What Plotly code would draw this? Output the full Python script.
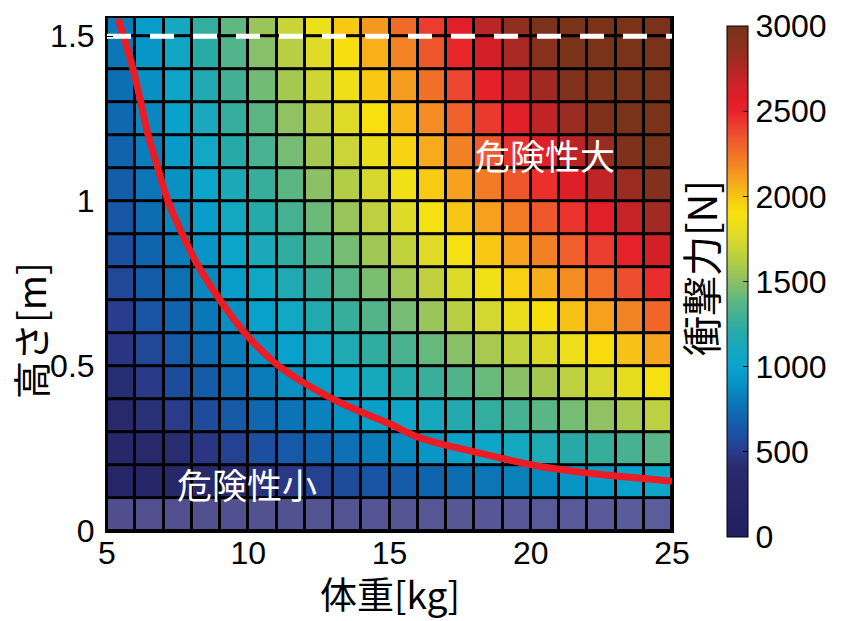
import plotly.graph_objects as go

# ---------------- data ----------------
# cell edges
weight_edges = [5, 6, 7, 8, 9, 10, 11, 12, 13, 14, 15, 16, 17, 18, 19, 20, 21, 22, 23, 24, 25]
height_edges_bottom = [0.0, 0.1]
height_edges = [0.1, 0.2, 0.3, 0.4, 0.5, 0.6, 0.7, 0.8, 0.9, 1.0, 1.1, 1.2, 1.3, 1.4, 1.5, 1.6]

# impact force [N] per cell, bottom row (0 - 0.1 m)
force_row_0 = [110, 130, 150, 170, 190, 210, 230, 250, 270, 290, 310, 330, 350, 370, 390, 410, 430, 450, 470, 490]

# impact force [N] per cell, rows 0.1 - 1.6 m (bottom to top)
force_rows = [
    [233, 275, 317, 360, 402, 444, 486, 529, 571, 613, 656, 698, 740, 783, 825, 867, 909, 952, 994, 1036],
    [308, 364, 420, 476, 532, 588, 644, 700, 756, 812, 868, 924, 980, 1036, 1092, 1148, 1204, 1260, 1316, 1372],
    [370, 437, 504, 571, 638, 706, 773, 840, 907, 974, 1042, 1109, 1176, 1243, 1310, 1378, 1445, 1512, 1579, 1646],
    [422, 499, 576, 653, 730, 806, 883, 960, 1037, 1114, 1190, 1267, 1344, 1421, 1498, 1574, 1651, 1728, 1805, 1882],
    [470, 556, 641, 727, 812, 898, 983, 1069, 1154, 1240, 1325, 1411, 1496, 1582, 1667, 1753, 1838, 1924, 2009, 2095],
    [514, 607, 701, 794, 887, 981, 1074, 1168, 1261, 1354, 1448, 1541, 1635, 1728, 1821, 1915, 2008, 2102, 2195, 2288],
    [554, 655, 755, 856, 957, 1057, 1158, 1259, 1359, 1460, 1561, 1662, 1762, 1863, 1964, 2064, 2165, 2266, 2366, 2467],
    [591, 699, 806, 914, 1021, 1129, 1236, 1344, 1451, 1559, 1666, 1774, 1881, 1989, 2096, 2204, 2311, 2419, 2526, 2634],
    [626, 740, 854, 968, 1082, 1196, 1310, 1424, 1538, 1652, 1765, 1879, 1993, 2107, 2221, 2335, 2449, 2563, 2677, 2791],
    [660, 780, 900, 1020, 1140, 1260, 1380, 1500, 1620, 1740, 1860, 1980, 2100, 2220, 2340, 2460, 2580, 2700, 2820, 2940],
    [692, 818, 944, 1069, 1195, 1321, 1447, 1573, 1698, 1824, 1950, 2076, 2202, 2327, 2453, 2579, 2705, 2831, 2956, 3082],
    [723, 854, 986, 1117, 1248, 1380, 1511, 1643, 1774, 1905, 2037, 2168, 2300, 2431, 2562, 2694, 2825, 2957, 3088, 3219],
    [752, 889, 1026, 1163, 1300, 1436, 1573, 1710, 1847, 1984, 2120, 2257, 2394, 2531, 2668, 2804, 2941, 3078, 3215, 3352],
    [780, 922, 1064, 1206, 1348, 1490, 1632, 1774, 1916, 2058, 2199, 2341, 2483, 2625, 2767, 2909, 3051, 3193, 3335, 3477],
    [808, 955, 1102, 1249, 1396, 1542, 1689, 1836, 1983, 2130, 2277, 2424, 2571, 2718, 2865, 3011, 3158, 3305, 3452, 3599],
]

# danger boundary curve
curve_weight = [5.40, 5.90, 6.18, 6.44, 6.79, 7.14, 7.64, 8.23, 9.0, 9.89, 11.12, 13.07,
                15.0, 16.0, 17.0, 18.0, 19.0, 20.0, 21.0, 22.0, 23.0, 24.0, 25.0]
curve_height = [1.552, 1.407, 1.306, 1.205, 1.103, 1.005, 0.904, 0.803, 0.70, 0.599, 0.498, 0.397,
                0.325, 0.285, 0.260, 0.240, 0.220, 0.201, 0.187, 0.176, 0.167, 0.159, 0.151]

# safety height line
line_weight = [5, 25]
line_height = [1.5, 1.5]

x_ticks = [5, 10, 15, 20, 25]
y_ticks = [0, 0.5, 1, 1.5]
y_ticklabels = ["0", "0.5", "1", "1.5"]
cbar_ticks = [0, 500, 1000, 1500, 2000, 2500, 3000]

# ---------------- style ----------------
colorscale = [
    [0.000, "#221e62"], [0.133, "#282a6c"], [0.167, "#2a3a8a"], [0.200, "#1a52a2"],
    [0.233, "#1064ae"], [0.267, "#0a7ab8"], [0.300, "#0892c4"], [0.333, "#08a4cc"],
    [0.367, "#16a8c0"], [0.400, "#26aaa8"], [0.433, "#42b094"], [0.467, "#62b880"],
    [0.500, "#8cc066"], [0.533, "#aecb4a"], [0.567, "#ccd536"], [0.600, "#e6dd20"],
    [0.633, "#f8e20e"], [0.667, "#f8c414"], [0.700, "#f6a21e"], [0.733, "#f28224"],
    [0.767, "#f0622a"], [0.800, "#ec4430"], [0.833, "#e8222a"], [0.867, "#dc1e28"],
    [0.900, "#c02426"], [0.933, "#a02a22"], [0.967, "#88301e"], [1.000, "#7a3218"],
]

TICK_FONT = dict(family="Liberation Sans, Arial, sans-serif", size=32, color="black")
JP_FONT = "Noto Sans CJK JP, sans-serif"

fig = go.Figure()

fig.add_trace(go.Heatmap(
    x=weight_edges, y=height_edges, z=force_rows,
    zmin=0, zmax=3000, colorscale=colorscale,
    xgap=3, ygap=3,
    colorbar=dict(
        x=(727 - 107) / 565, xanchor="left", xref="paper",
        y=(531 - 281.5) / 513, yanchor="middle",
        len=511, lenmode="pixels",
        thickness=21, thicknessmode="pixels",
        outlinecolor="black", outlinewidth=1,
        tickvals=cbar_ticks, ticks="inside", ticklen=5, tickcolor="black",
        tickfont=TICK_FONT, ypad=0, xpad=0,
    ),
    hoverinfo="skip",
))

fig.add_trace(go.Heatmap(
    x=weight_edges, y=height_edges_bottom, z=[force_row_0],
    zmin=0, zmax=500, colorscale=[[0, "#4d4a88"], [1, "#5b5c9c"]],
    xgap=3, ygap=3, showscale=False, hoverinfo="skip",
))

fig.add_trace(go.Scatter(
    x=curve_weight, y=curve_height, mode="lines",
    line=dict(color="#ec1c24", width=7, shape="spline"),
    hoverinfo="skip", showlegend=False,
))

fig.add_trace(go.Scatter(
    x=line_weight, y=line_height, mode="lines",
    line=dict(color="white", width=5, dash="24px,19px"),
    hoverinfo="skip", showlegend=False,
))

fig.update_layout(
    width=842, height=621,
    margin=dict(l=107, r=170, t=18, b=90, autoexpand=False),
    paper_bgcolor="white", plot_bgcolor="black",
    showlegend=False,
    xaxis=dict(
        range=[5, 25], tickvals=x_ticks, ticks="inside", ticklen=6, tickcolor="black",
        showline=True, linecolor="black", linewidth=2, mirror=True, automargin=False,
        showgrid=False, zeroline=False, tickfont=TICK_FONT, ticklabelstandoff=-7,
    ),
    yaxis=dict(
        range=[0, 1.555], tickvals=y_ticks, ticktext=y_ticklabels, ticks="inside", ticklen=6,
        tickcolor="black", showline=True, linecolor="black", linewidth=2, mirror=True,
        automargin=False, showgrid=False, zeroline=False, tickfont=TICK_FONT,
        ticklabelstandoff=4,
    ),
    annotations=[
        dict(x=20.5, y=1.14, xref="x", yref="y", text="危険性大", showarrow=False,
             font=dict(family=JP_FONT, size=35, color="white")),
        dict(x=9.95, y=0.143, xref="x", yref="y", text="危険性小", showarrow=False,
             font=dict(family=JP_FONT, size=35, color="white")),
        dict(x=(700 - 107) / 565, y=(531 - 268) / 513, xref="paper", yref="paper",
             xanchor="center", yanchor="middle",
             text="衝撃力[N]", textangle=-90, showarrow=False,
             font=dict(family=JP_FONT, size=40, color="black")),
        dict(x=(390 - 107) / 565, y=(531 - 593) / 513, xref="paper", yref="paper",
             xanchor="center", yanchor="middle", borderpad=0,
             text="体重[kg]", showarrow=False,
             font=dict(family=JP_FONT, size=37, color="black")),
        dict(x=(29 - 107) / 565, y=(531 - 331) / 513, xref="paper", yref="paper",
             xanchor="center", yanchor="middle",
             text="高さ[m]", textangle=-90, showarrow=False,
             font=dict(family=JP_FONT, size=38, color="black")),
    ],
)

fig.write_html("out.html", config={"displayModeBar": False},
               post_script="document.body.style.margin='0';document.body.style.overflow='hidden';")
